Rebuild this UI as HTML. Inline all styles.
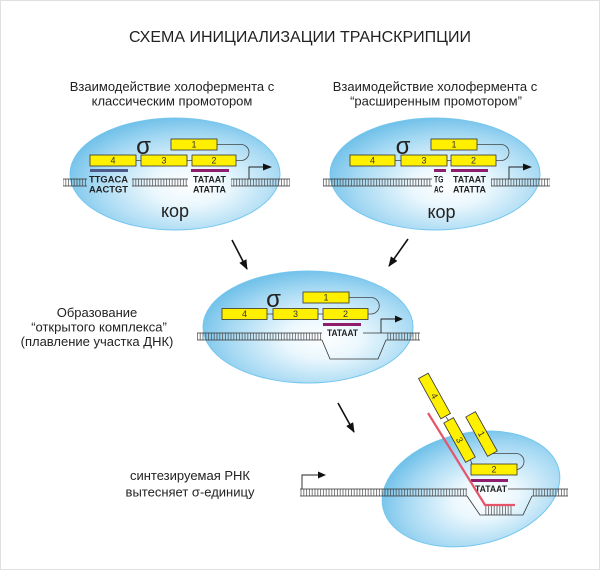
<!DOCTYPE html>
<html><head><meta charset="utf-8"><style>
html,body{margin:0;padding:0;background:#fff;}
svg{display:block;}
text{font-family:"Liberation Sans",Arial,sans-serif;fill:#222;}
.lbl{font-size:13px;text-anchor:middle;}
.seq{font-size:9.5px;font-weight:bold;}
.bx{fill:#fff000;stroke:#333;stroke-width:0.8;}
.n{font-size:9px;text-anchor:middle;fill:#333;}
.cn{fill:none;stroke:#444;stroke-width:0.8;}
.ll{fill:none;stroke:#333;stroke-width:0.8;}
.sig{font-size:24px;text-anchor:middle;fill:#222;}
.kor{font-size:18px;text-anchor:middle;fill:#222;}
.ell{fill:url(#eg);stroke:#74c6ef;stroke-width:1;}
</style></head><body>
<svg width="600" height="570" viewBox="0 0 600 570" xmlns="http://www.w3.org/2000/svg">
<defs>
<radialGradient id="eg" cx="0.57" cy="0.6" r="0.62">
<stop offset="0" stop-color="#ffffff"/>
<stop offset="0.3" stop-color="#eaf7fd"/>
<stop offset="0.72" stop-color="#a6d9f3"/>
<stop offset="1" stop-color="#70c0e9"/>
</radialGradient>
<pattern id="lad" patternUnits="userSpaceOnUse" width="2.8" height="20">
<line x1="1.4" y1="0" x2="1.4" y2="20" stroke="#444" stroke-width="0.7"/>
</pattern>
<marker id="ah" viewBox="0 0 10 8" refX="9" refY="4" markerWidth="10" markerHeight="8" markerUnits="userSpaceOnUse" orient="auto">
<path d="M0,0 L10,4 L0,8z" fill="#111"/>
</marker>
</defs>

<rect x="0.5" y="0.5" width="599" height="569" fill="#fff" stroke="#e0e0e0" stroke-width="1"/>

<!-- Title -->
<text x="300" y="42" style="font-size:16px;text-anchor:middle;">СХЕМА ИНИЦИАЛИЗАЦИИ ТРАНСКРИПЦИИ</text>

<!-- subtitles -->
<text class="lbl" x="172" y="91">Взаимодействие холофермента с</text>
<text class="lbl" x="172" y="105.5">классическим промотором</text>
<text class="lbl" x="435" y="91">Взаимодействие холофермента с</text>
<text class="lbl" x="436" y="105.5">“расширенным промотором”</text>

<!-- ===== Ellipse 1 ===== -->
<ellipse class="ell" cx="175" cy="174" rx="105" ry="56"/>
<text class="kor" x="175" y="217">кор</text>
<rect x="63" y="179" width="24" height="7" fill="url(#lad)"/><path class="ll" d="M63,179H87M63,186H87"/>
<rect x="132" y="179" width="56" height="7" fill="url(#lad)"/><path class="ll" d="M132,179H188M132,186H188"/>
<rect x="231" y="179" width="59" height="7" fill="url(#lad)"/><path class="ll" d="M231,179H290M231,186H290"/>
<text class="seq" x="89" y="182.3" textLength="39" lengthAdjust="spacingAndGlyphs">TTGACA</text>
<text class="seq" x="89" y="192.5" textLength="39" lengthAdjust="spacingAndGlyphs">AACTGT</text>
<text class="seq" x="193" y="182.3" textLength="33" lengthAdjust="spacingAndGlyphs">TATAAT</text>
<text class="seq" x="193" y="192.5" textLength="33" lengthAdjust="spacingAndGlyphs">ATATTA</text>
<rect x="90" y="169" width="38" height="3" fill="#4d5b8c"/>
<rect x="191" y="169" width="38" height="3" fill="#8e1d6e"/>
<path d="M249,179V167H265" fill="none" stroke="#222" stroke-width="0.9"/>
<path d="M263,163.5L272,167L263,170.5z" fill="#111"/>
<path class="cn" d="M136,160.5H141M187,160.5H192M217,144.5H241A8 8 0 0 1 241,160.5H236"/>
<rect class="bx" x="171" y="139" width="46" height="11"/><text class="n" x="194" y="147.5">1</text>
<rect class="bx" x="90" y="155" width="46" height="11"/><text class="n" x="113" y="163.5">4</text>
<rect class="bx" x="141" y="155" width="46" height="11"/><text class="n" x="164" y="163.5">3</text>
<rect class="bx" x="192" y="155" width="44" height="11"/><text class="n" x="214" y="163.5">2</text>
<text class="sig" x="143.5" y="154">σ</text>

<!-- ===== Ellipse 2 ===== -->
<ellipse class="ell" cx="435" cy="174" rx="105" ry="56"/>
<text class="kor" x="441.5" y="218">кор</text>
<rect x="323" y="179" width="109" height="7" fill="url(#lad)"/><path class="ll" d="M323,179H432M323,186H432"/>
<rect x="491" y="179" width="59" height="7" fill="url(#lad)"/><path class="ll" d="M491,179H550M491,186H550"/>
<text class="seq" x="434" y="182.3" textLength="9.5" lengthAdjust="spacingAndGlyphs">TG</text>
<text class="seq" x="434" y="192.5" textLength="9.5" lengthAdjust="spacingAndGlyphs">AC</text>
<text class="seq" x="453" y="182.3" textLength="33" lengthAdjust="spacingAndGlyphs">TATAAT</text>
<text class="seq" x="453" y="192.5" textLength="33" lengthAdjust="spacingAndGlyphs">ATATTA</text>
<rect x="434" y="169" width="12" height="3" fill="#8e1d6e"/>
<rect x="451" y="169" width="37" height="3" fill="#8e1d6e"/>
<path d="M509,179V167H525" fill="none" stroke="#222" stroke-width="0.9"/>
<path d="M523,163.5L532,167L523,170.5z" fill="#111"/>
<path class="cn" d="M395,160.5H401M447,160.5H451M477,144.5H501A8 8 0 0 1 501,160.5H496"/>
<rect class="bx" x="431" y="139" width="46" height="11"/><text class="n" x="454" y="147.5">1</text>
<rect class="bx" x="350" y="155" width="45" height="11"/><text class="n" x="372.5" y="163.5">4</text>
<rect class="bx" x="401" y="155" width="46" height="11"/><text class="n" x="424" y="163.5">3</text>
<rect class="bx" x="451" y="155" width="45" height="11"/><text class="n" x="473.5" y="163.5">2</text>
<text class="sig" x="403" y="154">σ</text>

<!-- big arrows -->
<line x1="232" y1="240" x2="247" y2="269" stroke="#111" stroke-width="1.6" marker-end="url(#ah)"/>
<line x1="408" y1="239" x2="389" y2="266" stroke="#111" stroke-width="1.6" marker-end="url(#ah)"/>
<line x1="338" y1="403" x2="354" y2="432" stroke="#111" stroke-width="1.6" marker-end="url(#ah)"/>

<!-- ===== Middle ellipse ===== -->
<text class="lbl" x="97" y="317">Образование</text>
<text class="lbl" x="99" y="331.5">“открытого комплекса”</text>
<text class="lbl" x="97" y="346">(плавление участка ДНК)</text>
<ellipse class="ell" cx="308" cy="327" rx="105" ry="56"/>
<rect x="197" y="333" width="125" height="7" fill="url(#lad)"/><path class="ll" d="M197,333H322M197,340H322"/>
<rect x="386" y="333" width="34" height="7" fill="url(#lad)"/><path class="ll" d="M386,333H420M386,340H420"/>
<path class="ll" d="M322,340L330,359H378L386,340M363,333H386"/>
<text class="seq" x="327" y="336" textLength="31" lengthAdjust="spacingAndGlyphs">TATAAT</text>
<rect x="323" y="323" width="38" height="3" fill="#8e1d6e"/>
<path d="M381,333V319H396" fill="none" stroke="#222" stroke-width="0.9"/>
<path d="M395,315.5L403,319L395,322.5z" fill="#111"/>
<path class="cn" d="M267,314H273M318,314H323M349,297.5H371A8.25 8.25 0 0 1 371,314H368"/>
<rect class="bx" x="303" y="292" width="46" height="11"/><text class="n" x="326" y="300.5">1</text>
<rect class="bx" x="222" y="308.5" width="45" height="11"/><text class="n" x="244.5" y="317">4</text>
<rect class="bx" x="273" y="308.5" width="45" height="11"/><text class="n" x="295.5" y="317">3</text>
<rect class="bx" x="323" y="308.5" width="45" height="11"/><text class="n" x="345.5" y="317">2</text>
<text class="sig" x="273.5" y="307">σ</text>

<!-- ===== Bottom ===== -->
<text class="lbl" x="190" y="480">синтезируемая РНК</text>
<text class="lbl" x="190" y="496.5">вытесняет σ-единицу</text>
<ellipse class="ell" cx="0" cy="0" rx="90" ry="56" transform="translate(471,489) rotate(-12)"/>
<rect x="300" y="489" width="167" height="7" fill="url(#lad)"/><path class="ll" d="M300,489H467M300,496H467"/>
<rect x="532" y="489" width="36" height="7" fill="url(#lad)"/><path class="ll" d="M532,489H568M532,496H568"/>
<rect x="485" y="505" width="28" height="10" fill="url(#lad)"/>
<path class="ll" d="M467,496L480,515H523L532,496M508,489H532"/>
<path d="M302,489V475H319" fill="none" stroke="#222" stroke-width="0.9"/>
<path d="M318,471.5L326,475L318,478.5z" fill="#111"/>
<text class="seq" x="475" y="492" textLength="32" lengthAdjust="spacingAndGlyphs">TATAAT</text>
<rect x="471" y="479" width="37" height="3" fill="#8e1d6e"/>
<path d="M428,413L485,505H515" fill="none" stroke="#e5566a" stroke-width="2.2"/>
<path class="cn" d="M446,417L448.5,420.5M470.5,460L472,464M493,453.5H516A8 8 0 0 1 516,469.5H517"/>
<rect class="bx" x="471" y="464" width="46" height="11"/><text class="n" x="494" y="472.5">2</text>
<g transform="translate(434.5,396) rotate(61)"><rect class="bx" x="-23" y="-5.5" width="46" height="11"/><text class="n" x="0" y="3">4</text></g>
<g transform="translate(459.5,440) rotate(61)"><rect class="bx" x="-22.5" y="-5.5" width="45" height="11"/><text class="n" x="0" y="3">3</text></g>
<g transform="translate(481.5,434) rotate(61)"><rect class="bx" x="-22.5" y="-5.5" width="45" height="11"/><text class="n" x="0" y="3">1</text></g>
</svg>
</body></html>
